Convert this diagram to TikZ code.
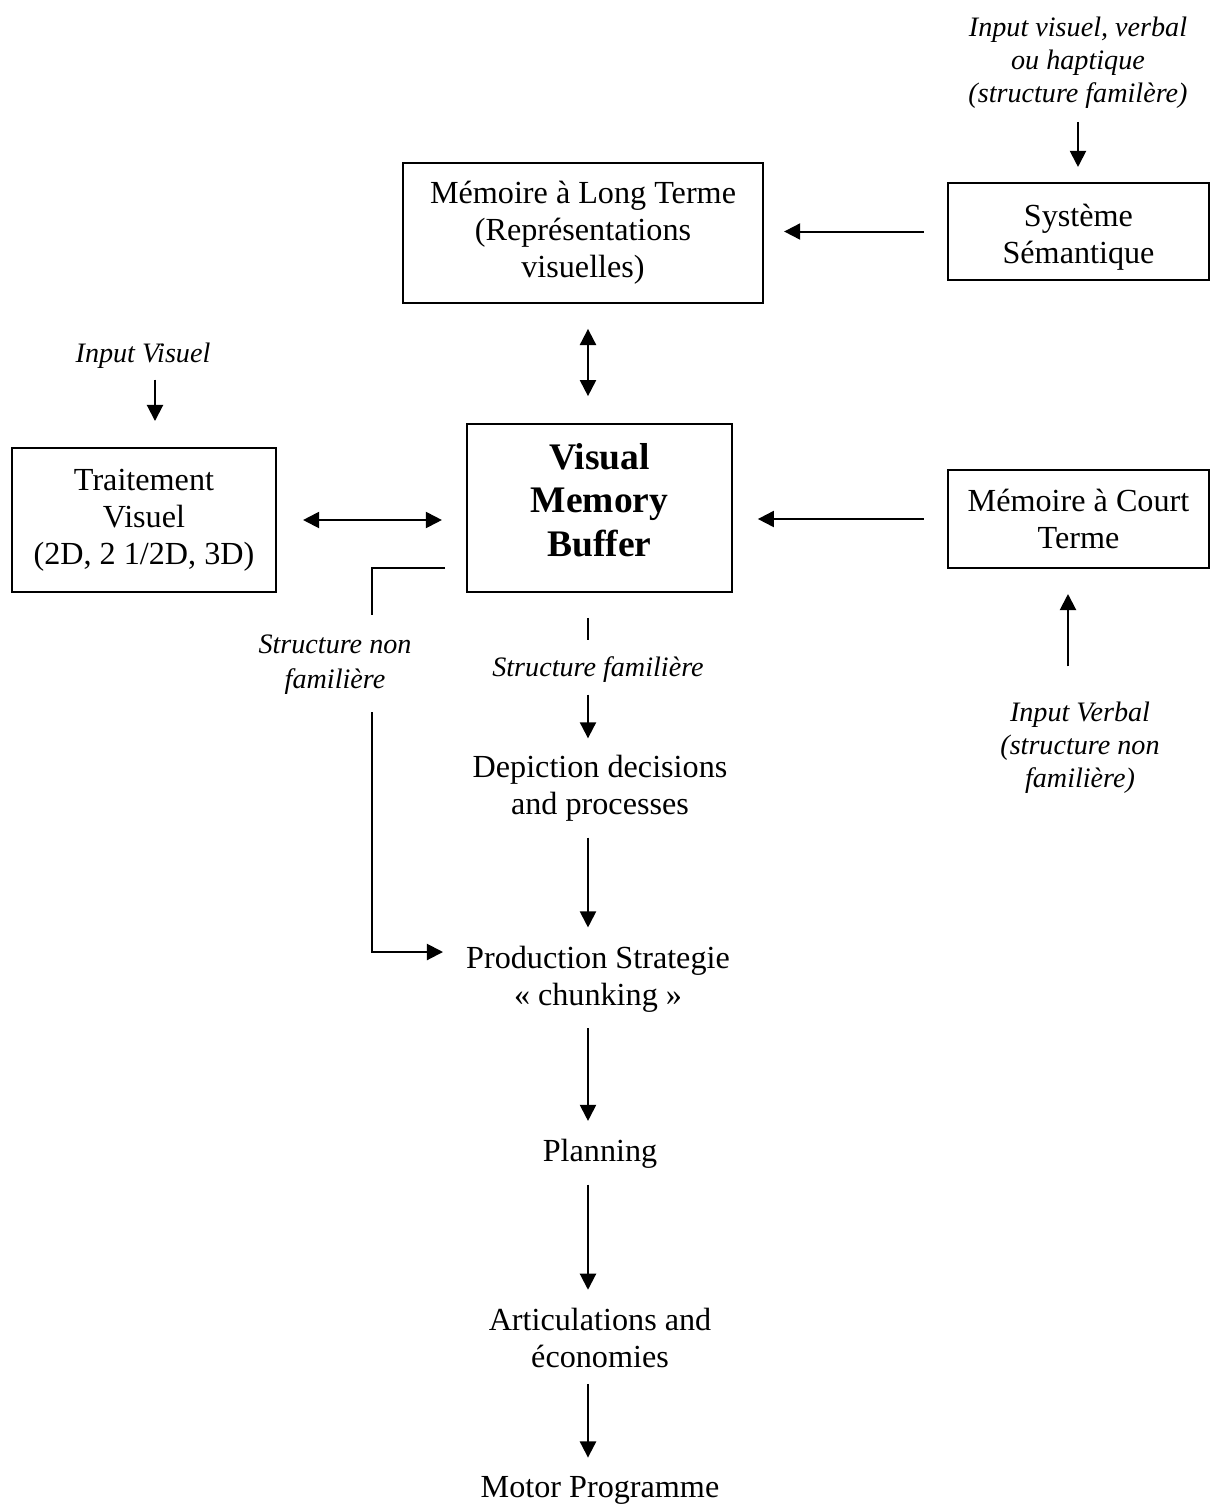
\documentclass[tikz,border=0pt]{standalone}
\usepackage{fontspec}
\setmainfont{Liberation Serif}
\usetikzlibrary{arrows.meta,calc}

\begin{document}
\begin{tikzpicture}[x=0.373pt,y=-0.373pt,line width=0.75pt,
    arr/.style={-{Triangle[length=6pt,width=6pt]}},
    dbl/.style={{Triangle[length=6pt,width=6pt]}-{Triangle[length=6pt,width=6pt]}},
    box/.style={draw, inner sep=0pt, align=center, font=\fontsize{12}{13.8}\selectfont},
    txt/.style={inner sep=0pt, align=center, font=\fontsize{12}{13.8}\selectfont},
    note/.style={inner sep=0pt, align=center, font=\fontsize{10.5}{12.3}\selectfont\itshape}]
  \useasboundingbox (0,0) rectangle (1211,1504);

  % boxes
  \node[box, minimum width=134.3pt, minimum height=52.2pt] (mlt) at (583,233) {Mémoire à Long Terme\\(Représentations\\visuelles)};
  \node[box, minimum width=97.4pt, minimum height=36.2pt, text height=26.2pt] (ss) at (1078.5,231.5) {Système\\Sémantique};
  \node[box, minimum width=98.5pt, minimum height=53.7pt] (tv) at (144,520) {Traitement\\Visuel\\(2D, 2 1/2D, 3D)};
  \node[box, minimum width=98.8pt, minimum height=62.7pt, text depth=6pt, font=\fontsize{14}{16.1}\selectfont\bfseries] (vmb) at (599.5,508) {Visual\\Memory\\Buffer};
  \node[box, minimum width=97.4pt, minimum height=36.6pt] (mct) at (1078.5,519) {Mémoire à Court\\Terme};

  % inputs and labels
  \node[note] (ivv) at (1078,63) {Input visuel, verbal\\ou haptique\\(structure familère)};
  \node[note] (iv) at (143,356) {Input Visuel};
  \node[note] (ivb) at (1080,748) {Input Verbal\\(structure non\\familière)};
  \node[note, font=\fontsize{10.5}{13}\selectfont\itshape] (snf) at (335,665) {Structure non\\familière};
  \node[note] (sf) at (598,670) {Structure familière};

  % production chain
  \node[txt] (ddp) at (600,788.5) {Depiction decisions\\and processes};
  \node[txt] (psc) at (598,979) {Production Strategie\\« chunking »};
  \node[txt] (pl) at (600,1154) {Planning};
  \node[txt] (ae) at (600,1338) {Articulations and\\économies};
  \node[txt] (mp) at (600,1490) {Motor Programme};

  \coordinate (axis) at (588,0);
  \coordinate (nf1) at (445,568);
  \coordinate (nf2) at (372,615);
  \coordinate (nf3) at (372,712);
  \coordinate (nf4) at (443,952);

  \draw[arr, shorten <=4.5pt, shorten >=5.6pt] (ivv.south) -- (ivv.south |- ss.north);
  \draw[arr, shorten <=8.6pt, shorten >=7.5pt] (ss.west) -- (ss.west -| mlt.east);
  \draw[dbl, shorten <=9.3pt, shorten >=10pt] (mlt.south -| axis) -- (vmb.north -| axis);
  \draw[arr, shorten <=3.7pt, shorten >=9.7pt] ($(iv.south)+(12,0)$) -- ($(tv.north)+(11,0)$);
  \draw[dbl, shorten <=9.7pt, shorten >=9pt] (tv.east) -- (tv.east -| vmb.west);
  \draw[arr, shorten <=8.6pt, shorten >=9.3pt] (mct.west) -- (mct.west -| vmb.east);
  \draw[arr, shorten <=13pt, shorten >=9.3pt] ($(ivb.north)+(-12,0)$) -- ($(mct.south)+(-10.5,0)$);

  \draw (nf1) -| (nf2);
  \draw[arr] (nf3) |- (nf4);

  \draw[shorten <=9.3pt, shorten >=6pt] (vmb.south -| axis) -- (sf.north -| axis);
  \draw[arr, shorten <=4pt, shorten >=6pt] (sf.south -| axis) -- (ddp.north -| axis);
  \foreach \a/\b in {ddp/psc,psc/pl,pl/ae,ae/mp}
    \draw[arr, shorten <=5.6pt, shorten >=6.5pt] (\a.south -| axis) -- (\b.north -| axis);
\end{tikzpicture}
\end{document}
